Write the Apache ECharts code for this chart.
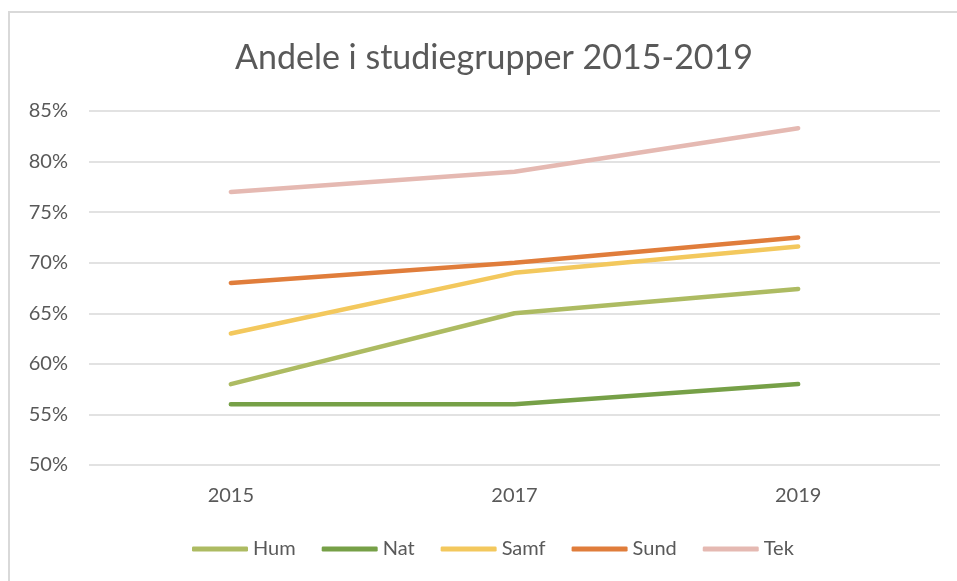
<!DOCTYPE html>
<html>
<head>
<meta charset="utf-8">
<script src="https://cdn.jsdelivr.net/npm/echarts@6/dist/echarts.min.js"></script>
<style>
  html, body { margin: 0; padding: 0; background: #fff; }
  #frame { position: absolute; left: 8px; top: 11px; width: 960px; height: 580px;
           border-left: 2px solid #d9d9d9; border-top: 2px solid #d9d9d9; }
  #chart { position: absolute; left: 0; top: 0; width: 957px; height: 581px; }
</style>
</head>
<body>
<div id="frame"></div>
<div id="chart"></div>
<script>
const years = ["2015", "2017", "2019"];
const hum = [58, 65, 67.4];
const nat = [56, 56, 58];
const samf = [63, 69, 71.6];
const sund = [68, 70, 72.5];
const tek = [77, 79, 83.3];

const names = ["Hum", "Nat", "Samf", "Sund", "Tek"];
const colors = ["#adbb62", "#76a047", "#f3c85d", "#e07d3b", "#e5b9b2"];
const values = [hum, nat, samf, sund, tek];

const font = "Lato, 'Open Sans', sans-serif";
const chart = echarts.init(document.getElementById("chart"));

const option = {
  backgroundColor: "transparent",
  animation: false,
  title: {
    text: "Andele i studiegrupper 2015-2019",
    left: 489,
    textAlign: "center",
    top: 36,
    textStyle: { fontFamily: font, fontSize: 34, fontWeight: "normal", color: "#595959" }
  },
  grid: { left: 89, right: 17, top: 111, bottom: 116 },
  legend: {
    bottom: 17,
    left: 187,
    icon: "roundRect",
    itemWidth: 56,
    itemHeight: 5,
    itemGap: 26,
    textStyle: { fontFamily: font, fontSize: 20, color: "#595959" },
    data: names
  },
  xAxis: {
    type: "category",
    data: years,
    boundaryGap: true,
    axisLine: { show: false },
    axisTick: { show: false },
    axisLabel: { fontFamily: font, fontSize: 20, color: "#595959", margin: 21 }
  },
  yAxis: {
    type: "value",
    min: 50,
    max: 85,
    interval: 5,
    axisLine: { show: false },
    axisTick: { show: false },
    axisLabel: { formatter: "{value}%", fontFamily: font, fontSize: 20, color: "#595959", margin: 21 },
    splitLine: { lineStyle: { color: "#d9d9d9", width: 1.5 } }
  },
  series: names.map((n, i) => ({
    name: n,
    type: "line",
    data: values[i],
    symbol: "none",
    color: colors[i],
    lineStyle: { width: 4.5, color: colors[i], cap: "round" }
  }))
};

chart.setOption(option);
</script>
</body>
</html>
